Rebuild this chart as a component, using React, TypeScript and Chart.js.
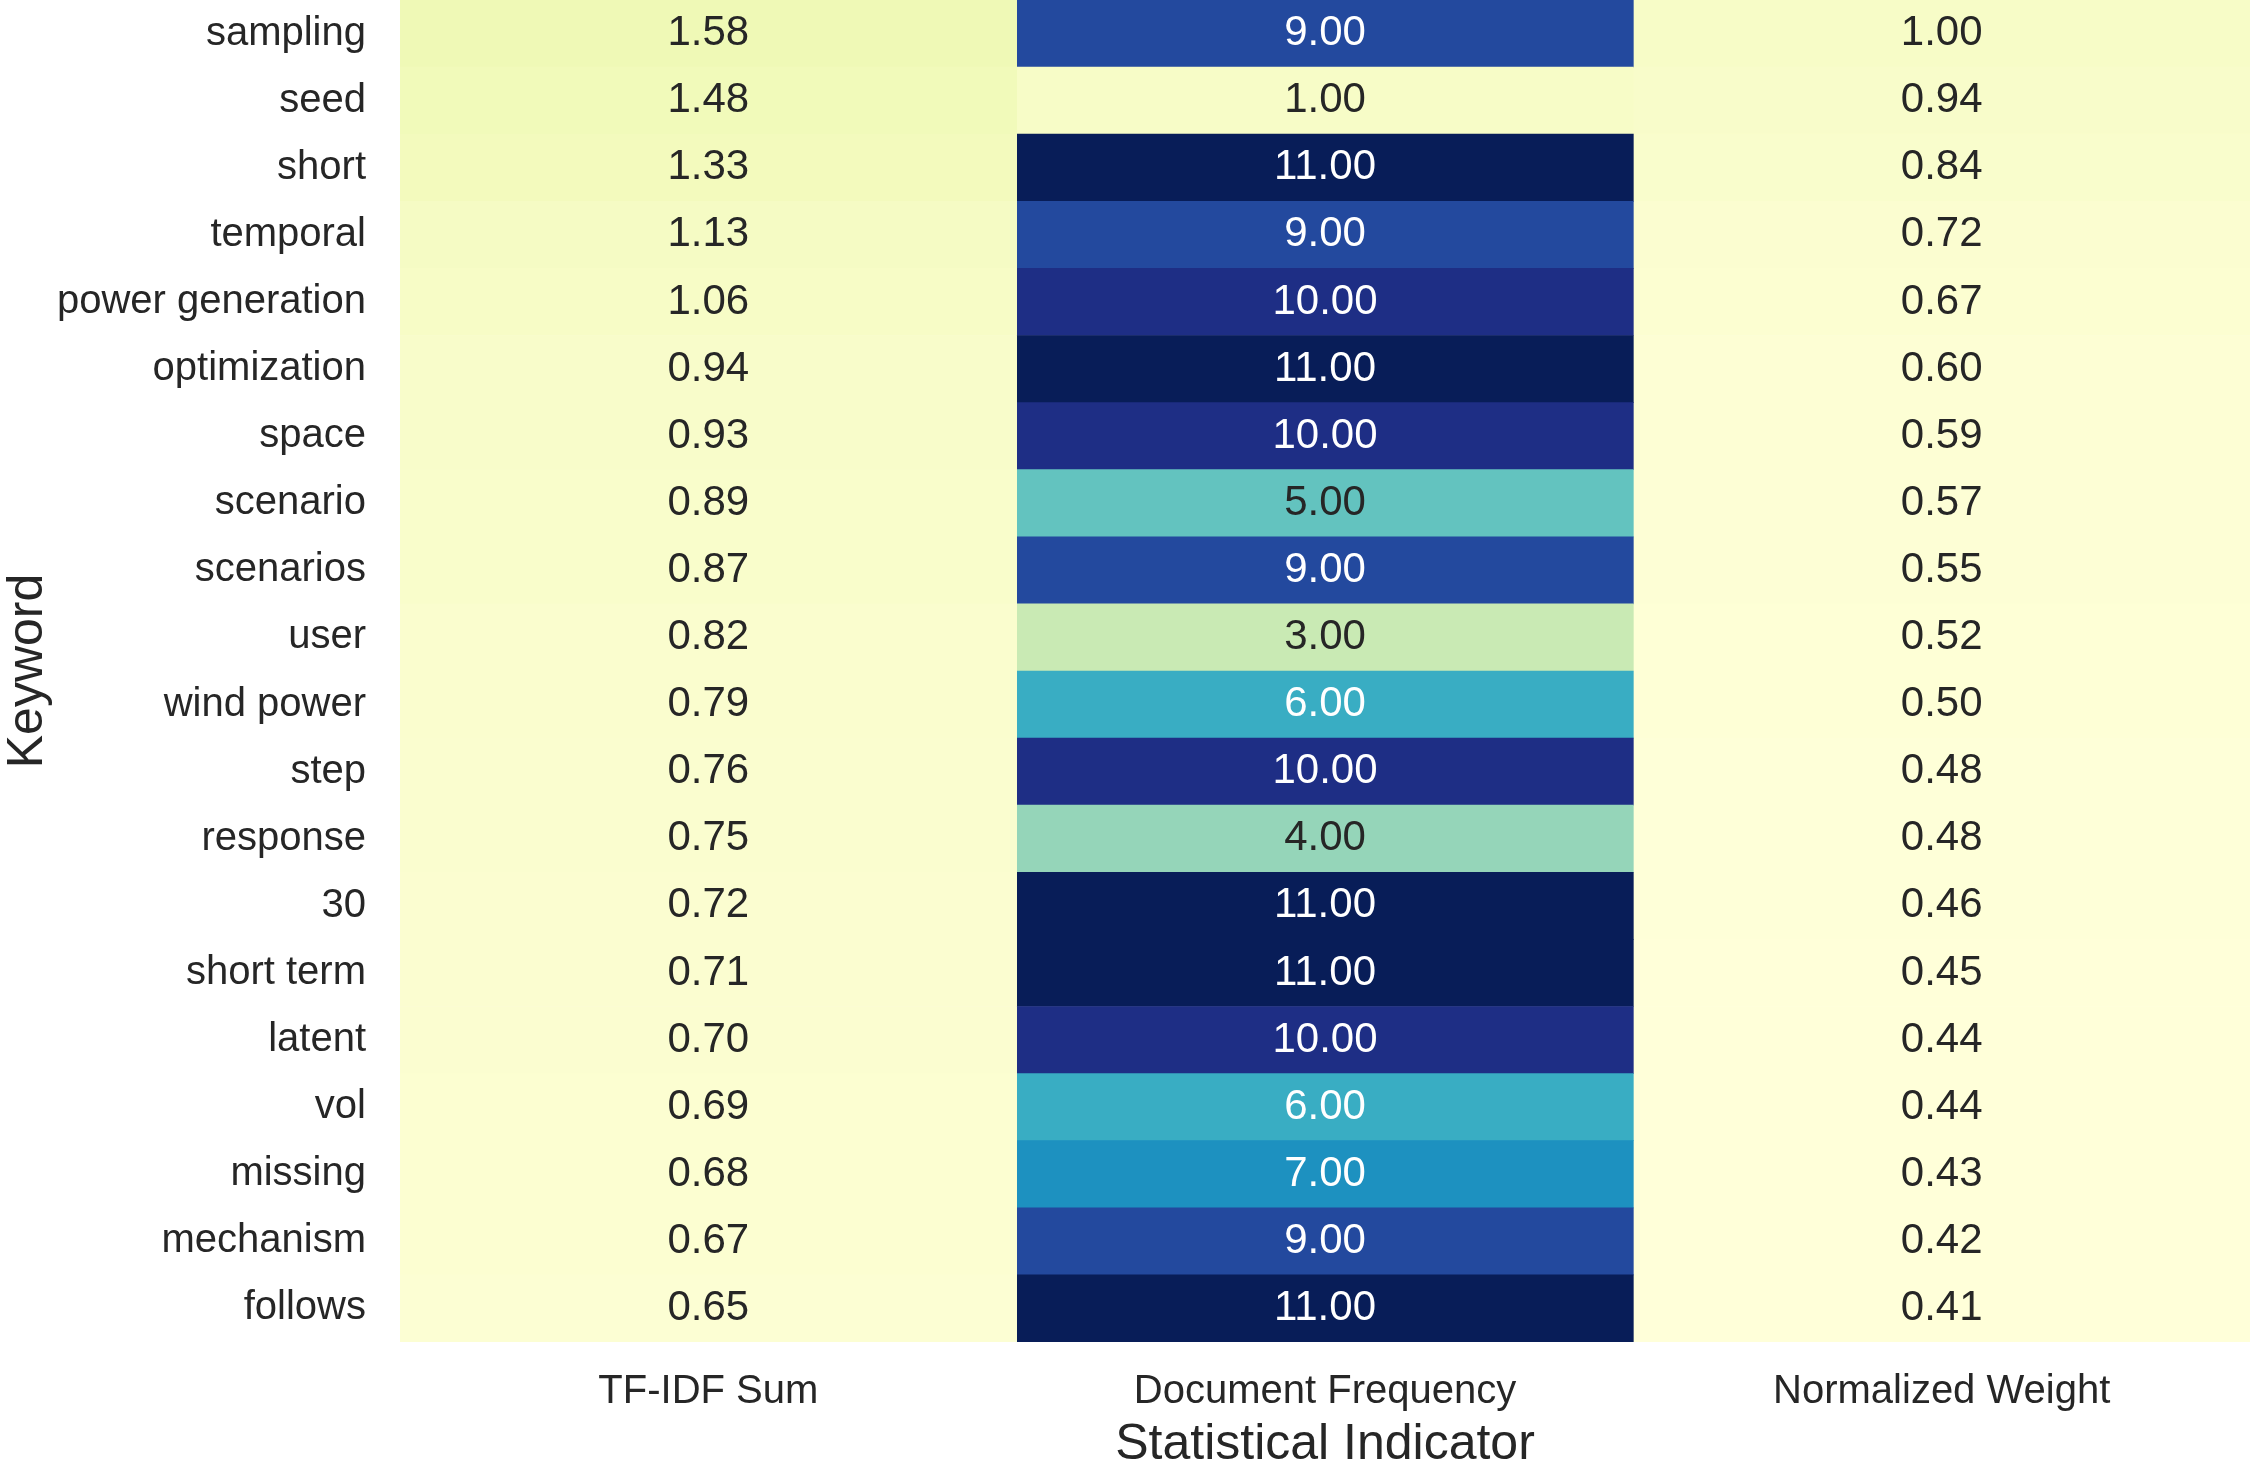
import { useEffect, useRef } from "react";
import { Chart, registerables } from "chart.js";

Chart.register(...registerables);

const keywords = [
  "sampling", "seed", "short", "temporal", "power generation", "optimization",
  "space", "scenario", "scenarios", "user", "wind power", "step", "response",
  "30", "short term", "latent", "vol", "missing", "mechanism", "follows",
];
const indicators = ["TF-IDF Sum", "Document Frequency", "Normalized Weight"];
const tfidfSum = [1.58, 1.48, 1.33, 1.13, 1.06, 0.94, 0.93, 0.89, 0.87, 0.82, 0.79, 0.76, 0.75, 0.72, 0.71, 0.70, 0.69, 0.68, 0.67, 0.65];
const docFrequency = [9, 1, 11, 9, 10, 11, 10, 5, 9, 3, 6, 10, 4, 11, 11, 10, 6, 7, 9, 11];
const normalizedWeight = [1.0, 0.94, 0.84, 0.72, 0.67, 0.60, 0.59, 0.57, 0.55, 0.52, 0.50, 0.48, 0.48, 0.46, 0.45, 0.44, 0.44, 0.43, 0.42, 0.41];

const xTitle = "Statistical Indicator";
const yTitle = "Keyword";

const FONT = '"Liberation Sans", Arial, sans-serif';
const TEXT_DARK = "#262626";

const YLGNBU = [
  [255, 255, 217], [237, 248, 177], [199, 233, 180], [127, 205, 187], [65, 182, 196],
  [29, 145, 192], [34, 94, 168], [37, 52, 148], [8, 29, 88],
];

function cmapRGB(t: number): number[] {
  const n = 256;
  let idx = Math.floor(t * n);
  if (idx < 0) idx = 0;
  if (idx > n - 1) idx = n - 1;
  const tt = idx / (n - 1);
  const pos = tt * (YLGNBU.length - 1);
  const i0 = Math.min(Math.floor(pos), YLGNBU.length - 2);
  const f = pos - i0;
  const a = YLGNBU[i0], b = YLGNBU[i0 + 1];
  return [0, 1, 2].map((k) => a[k] + (b[k] - a[k]) * f);
}

const series = [tfidfSum, docFrequency, normalizedWeight];
const allValues = series.flat();
const vmin = Math.min(...allValues);
const vmax = Math.max(...allValues);

function colorFor(v: number) {
  const c = cmapRGB((v - vmin) / (vmax - vmin));
  return `rgb(${Math.round(c[0])},${Math.round(c[1])},${Math.round(c[2])})`;
}

function lin(c: number) {
  const s = c / 255;
  return s <= 0.03928 ? s / 12.92 : Math.pow((s + 0.055) / 1.055, 2.4);
}

function textColorFor(v: number) {
  const c = cmapRGB((v - vmin) / (vmax - vmin));
  const lum = 0.2126 * lin(c[0]) + 0.7152 * lin(c[1]) + 0.0722 * lin(c[2]);
  return lum > 0.408 ? TEXT_DARK : "#ffffff";
}

const annotatePlugin = {
  id: "cellAnnotations",
  afterDatasetsDraw(chart: any) {
    const ctx = chart.ctx;
    ctx.save();
    ctx.font = `42px ${FONT}`;
    ctx.textAlign = "center";
    ctx.textBaseline = "middle";
    chart.data.datasets.forEach((_ds: any, d: number) => {
      const meta = chart.getDatasetMeta(d);
      meta.data.forEach((el: any, i: number) => {
        const v = series[d][i];
        const p = el.getProps(["x", "y", "base"], true);
        ctx.fillStyle = textColorFor(v);
        ctx.fillText(v.toFixed(2), (p.x + p.base) / 2, p.y);
      });
    });
    ctx.restore();
  },
};

export default function App() {
  const ref = useRef<HTMLCanvasElement | null>(null);

  useEffect(() => {
    if (!ref.current) return;
    const datasets = series.map((vals, d) => ({
      label: indicators[d],
      data: vals.map(() => [d, d + 1]),
      backgroundColor: vals.map(colorFor),
      borderWidth: 0,
      barPercentage: 1,
      categoryPercentage: 1,
      grouped: false,
    }));

    const chart = new Chart(ref.current, {
      type: "bar",
      data: { labels: keywords, datasets: datasets as any },
      plugins: [annotatePlugin],
      options: {
        animation: false,
        responsive: false,
        devicePixelRatio: 1,
        indexAxis: "y",
        layout: { padding: 0 },
        plugins: {
          legend: { display: false },
          tooltip: { enabled: false },
        },
        scales: {
          x: {
            type: "linear",
            position: "bottom",
            min: 0,
            max: 3,
            grid: { display: false, drawTicks: false },
            border: { display: false },
            afterBuildTicks: (scale: any) => {
              scale.ticks = indicators.map((_, i) => ({ value: i + 0.5 }));
            },
            afterFit: (scale: any) => {
              scale.height = 121;
              scale.paddingLeft = 0;
              scale.paddingRight = 0;
            },
            ticks: {
              autoSkip: false,
              maxRotation: 0,
              minRotation: 0,
              padding: 26,
              color: TEXT_DARK,
              font: { family: FONT, size: 40 },
              callback: (value: any) => indicators[Math.floor(Number(value))] ?? "",
            },
            title: {
              display: true,
              text: xTitle,
              color: TEXT_DARK,
              font: { family: FONT, size: 50, lineHeight: 0.72 },
              padding: { top: 0, bottom: 0 },
            },
          },
          y: {
            type: "category",
            position: "left",
            grid: { display: false, drawTicks: false },
            border: { display: false },
            afterFit: (scale: any) => {
              scale.width = 400;
              scale.paddingTop = 0;
              scale.paddingBottom = 0;
            },
            ticks: {
              autoSkip: false,
              padding: 34,
              color: TEXT_DARK,
              font: { family: FONT, size: 40 },
            },
            title: {
              display: true,
              text: yTitle,
              color: TEXT_DARK,
              font: { family: FONT, size: 50, lineHeight: 1 },
              padding: { top: 3, bottom: 0 },
            },
          },
        },
      } as any,
    });
    return () => chart.destroy();
  }, []);

  return (
    <div style={{ position: "fixed", left: 0, top: 0, width: 2250, height: 1463, background: "#ffffff" }}>
      <canvas ref={ref} width={2250} height={1463} style={{ width: 2250, height: 1463, display: "block" }} />
    </div>
  );
}
